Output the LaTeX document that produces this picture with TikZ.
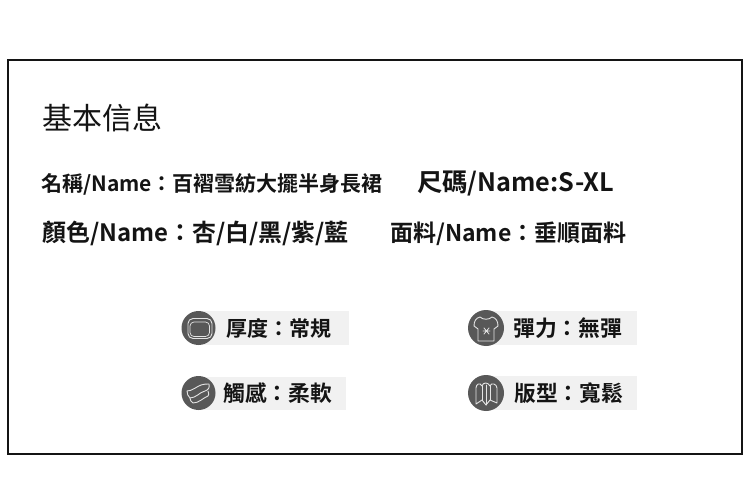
\documentclass[tikz,border=0pt]{standalone}
\usepackage{fontspec}
\setmainfont{Noto Sans CJK TC}[BoldFont={Noto Sans CJK TC Bold}]
\definecolor{icongray}{HTML}{585858}
\definecolor{bandgray}{HTML}{F1F1F1}
\definecolor{iconline}{HTML}{E4E4E4}
\tikzset{
  txt/.style={anchor=west,inner sep=0pt,text=black!92,font=\bfseries},
  band/.style={fill=bandgray,draw=none},
  iconbg/.style={circle,fill=icongray,draw=none,inner sep=0pt,minimum size=#1},
  iconstroke/.style={draw=iconline,line width=.9pt,line join=round,line cap=round},
}
\newcommand{\fs}[1]{\fontsize{#1pt}{#1pt}\selectfont}
\begin{document}
\begin{tikzpicture}[x=1pt,y=-1pt]
\useasboundingbox (0,0) rectangle (750,492);
\fill[white] (0,0) rectangle (750,492);
\node[draw=black!92,line width=2pt,minimum width=733.8pt,minimum height=394pt,inner sep=0pt,anchor=north west] (frame) at (7.2,59) {};
\node[txt,font=\mdseries] (title) at (42,118) {\fs{30}基本信息};
\node[txt] (r1a) at (41,184) {\fs{21}名稱/Name：百褶雪紡大擺半身長裙};
\node[txt] (r1b) at (417,184) {\fs{25.3}尺碼/Name:S-XL};
\node[txt] (r2a) at (42,233) {\fs{23.9}顏色/Name：杏/白/黑/紫/藍};
\node[txt] (r2b) at (390,234) {\fs{23}面料/Name：垂順面料};
% bands
\fill[band] (198,311) rectangle (349,345);
\fill[band] (198,377) rectangle (346,410);
\fill[band] (486,311) rectangle (637,345);
\fill[band] (486,376) rectangle (637,410);
% icons
\node[iconbg=34pt] (i1) at (198.5,328) {};
\node[iconbg=34pt] (i2) at (198.5,393) {};
\node[iconbg=36pt] (i3) at (486,328) {};
\node[iconbg=36pt] (i4) at (486,393) {};
% icon 1: nested rounded boxes
\draw[iconstroke,rounded corners=5pt] (188,318.5) rectangle (212,338.5);
\draw[iconstroke,rounded corners=4pt,line width=.7pt] (190,322) rectangle (209.5,336.5);
% icon 2: folded fabric
\draw[iconstroke] (187,391) .. controls (192,391) and (196,387) .. (201,385) .. controls (204,384) and (206,384) .. (209,384)
  .. controls (210,388) and (208,390) .. (205,391) .. controls (200,392) and (196,398) .. (190,398) .. controls (188,396) and (187,394) .. (187,391) -- cycle;
\draw[iconstroke] (190,398) .. controls (190,400) and (191,402) .. (193,403) .. controls (199,403) and (203,398) .. (208,396) .. controls (209,395) and (209,394) .. (208,391);
% icon 3: t-shirt
\draw[iconstroke] (480,317) .. controls (483,320) and (489,320) .. (492,317) .. controls (496,318) and (498,321) .. (498,326)
  -- (494,329) -- (494,341) -- (478,341) -- (478,329) -- (474,326) .. controls (474,321) and (476,318) .. (480,317) -- cycle;
\draw[iconstroke,line width=.8pt] (484,328) -- (489,334) (489,328) -- (484,334) (483,331) -- (490,331);
% icon 4: folded map
\draw[iconstroke] (476,388) .. controls (476,384) and (480,382) .. (482,386) .. controls (483,382) and (488,382) .. (490,386) .. controls (491,382) and (497,384) .. (497,388)
  -- (497,403) -- (490,400) -- (486,405) -- (482,400) -- (476,404) -- cycle;
\draw[iconstroke] (482,386) -- (482,400) (490,386) -- (490,400) (486,385) -- (486,405);
% labels
\node[txt] (l1) at (226,328) {\fs{21}厚度：常規};
\node[txt] (l2) at (223,393) {\fs{21.8}觸感：柔軟};
\node[txt] (l3) at (513,328) {\fs{21.8}彈力：無彈};
\node[txt] (l4) at (514,393) {\fs{21.8}版型：寬鬆};
\end{tikzpicture}
\end{document}
